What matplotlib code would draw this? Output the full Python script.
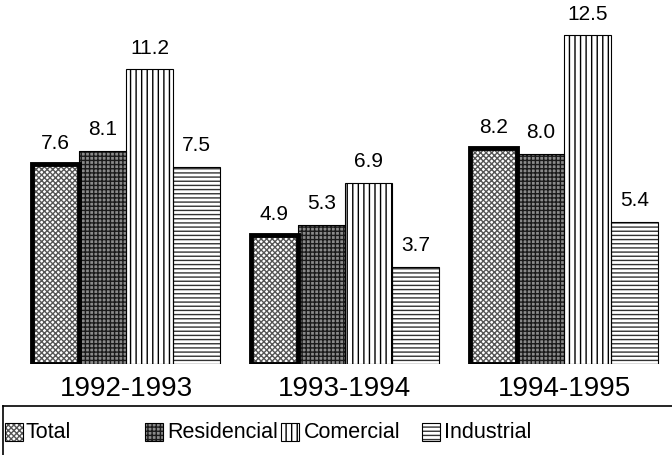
import matplotlib
matplotlib.use('Agg')
import matplotlib.pyplot as plt
from matplotlib.patches import Rectangle
from matplotlib.lines import Line2D
import numpy as np

plt.rcParams['font.family'] = ['Liberation Sans', 'DejaVu Sans']
plt.rcParams['hatch.linewidth'] = 1.0

# Data
periods = ['1992-1993', '1993-1994', '1994-1995']
series = ['Total', 'Residencial', 'Comercial', 'Industrial']
total = [7.6, 4.9, 8.2]
residencial = [8.1, 5.3, 8.0]
comercial = [11.2, 6.9, 12.5]
industrial = [7.5, 3.7, 5.4]
values = [total, residencial, comercial, industrial]

# styles: (facecolor, hatch, hatch colour, edge width)
styles = [
    ('white', 'xxxxxx', '#555555', 3.5),
    ('#8a8a8a', '++++', '#1a1a1a', 0.8),
    ('white', '|||', 'black', 0.8),
    ('white', '----', '#333333', 0.8),
]

fig = plt.figure(figsize=(6.72, 4.56), dpi=100)
ax = fig.add_axes([0, 0.1996, 1, 0.7566])

x = np.arange(len(periods))
width = 0.215
for i, (vals, st) in enumerate(zip(values, styles)):
    fc, hatch, hc, lw = st
    pos = x + (i - 1.5) * width
    # hatch layer
    ax.bar(pos, vals, width, color=fc, edgecolor=hc, hatch=hatch, linewidth=0, zorder=2)
    # outline layer
    ax.bar(pos, vals, width, fill=False, edgecolor='black', linewidth=lw, zorder=3)
    for p, v in zip(pos, vals):
        ax.annotate(f'{v:.1f}', (p, v), xytext=(0, 9), textcoords='offset points',
                    ha='center', va='bottom', fontsize=15, annotation_clip=False)

ax.set_xlim(-0.575, 2.493)
ax.set_ylim(0, 13.12)
ax.set_xticks(x)
ax.set_xticklabels(periods, fontsize=20)
ax.tick_params(axis='x', length=0, pad=8)
ax.set_yticks([])
for s in ax.spines.values():
    s.set_visible(False)

# legend drawn by hand in figure pixels
W, H = 672, 456
fig.add_artist(Line2D([3 / W, 1], [1 - 407 / H, 1 - 407 / H], color='black', lw=1.2,
                      transform=fig.transFigure))
fig.add_artist(Line2D([3 / W, 3 / W], [1 - 407 / H, 0], color='black', lw=1.2,
                      transform=fig.transFigure))
patch_x = [5, 145, 281, 422]
text_x = [26, 167, 304, 444]
for name, st, px, tx in zip(series, styles, patch_x, text_x):
    fc, hatch, hc, lw = st
    fig.add_artist(Rectangle((px / W, 1 - 442 / H), 18 / W, 18 / H, facecolor=fc,
                             edgecolor=hc, hatch=hatch, linewidth=0,
                             transform=fig.transFigure))
    fig.add_artist(Rectangle((px / W, 1 - 442 / H), 18 / W, 18 / H, fill=False,
                             edgecolor='black', linewidth=0.8,
                             transform=fig.transFigure))
    fig.text(tx / W, 1 - 433 / H, name, fontsize=15.5, va='center', ha='left')

fig.savefig('out.png', dpi=100)
